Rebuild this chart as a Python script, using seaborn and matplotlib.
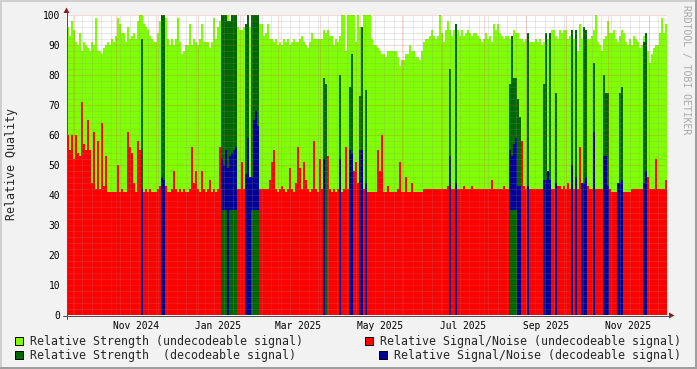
import matplotlib
matplotlib.use("Agg")
import matplotlib.pyplot as plt
import matplotlib.dates as mdates
from matplotlib.patches import Rectangle, Polygon
from matplotlib.lines import Line2D
from matplotlib.ticker import FixedLocator, MultipleLocator
import numpy as np
import pandas as pd
import seaborn as sns

W, H = 697, 369

# ---------------- data ----------------
start_time = "2024-09-25 15:30"
step_minutes = 2136  # one consolidated sample per column

strength_undecodable = [
    96, 93, 98, 95, 91, 90, 94, 88, 91, 90, 89, 88, 91, 90, 99, 88, 88, 87, 89, 90, 91, 90, 92, 91, 93,
    99, 97, 94, 94, 91, 96, 92, 93, 94, 92, 98, 100, 100, 97, 96, 95, 93, 92, 91, 91, 94, 98, 100, 100, 99,
    92, 90, 92, 90, 92, 99, 91, 87, 88, 90, 90, 97, 90, 92, 91, 90, 92, 97, 91, 91, 91, 89, 91, 99, 92,
    96, 98, 100, 100, 100, 100, 98, 100, 100, 100, 96, 95, 95, 96, 97, 100, 96, 100, 100, 100, 100, 97, 97, 93, 94,
    97, 92, 92, 91, 92, 90, 91, 90, 92, 91, 92, 90, 91, 92, 91, 91, 92, 93, 91, 90, 89, 91, 94, 92, 92,
    92, 92, 92, 95, 94, 95, 93, 93, 90, 92, 91, 93, 100, 100, 88, 100, 100, 100, 100, 91, 100, 96, 91, 100, 100,
    100, 100, 92, 90, 90, 89, 88, 87, 87, 86, 88, 88, 88, 88, 88, 86, 83, 85, 85, 87, 87, 90, 88, 88, 86,
    86, 85, 88, 91, 92, 92, 93, 95, 93, 92, 93, 100, 94, 91, 95, 98, 95, 93, 95, 97, 95, 93, 95, 93, 94,
    95, 94, 93, 94, 94, 93, 92, 91, 92, 94, 92, 93, 91, 97, 95, 97, 94, 93, 92, 93, 93, 92, 93, 95, 94,
    94, 92, 92, 91, 92, 94, 91, 91, 91, 92, 91, 92, 90, 91, 94, 92, 93, 95, 95, 93, 92, 95, 94, 95, 95,
    92, 93, 95, 92, 92, 88, 97, 92, 96, 95, 92, 92, 93, 95, 100, 91, 90, 88, 92, 93, 98, 94, 94, 95, 92,
    91, 93, 95, 94, 91, 90, 92, 90, 93, 92, 91, 89, 90, 93, 94, 88, 84, 87, 89, 90, 90, 94, 99, 94, 97,
]

snr_undecodable = [
    60, 55, 60, 52, 60, 54, 53, 71, 57, 55, 65, 55, 44, 61, 42, 58, 42, 64, 43, 53, 41, 41, 41, 41, 41,
    50, 41, 42, 41, 41, 61, 56, 54, 44, 41, 58, 55, 50, 41, 42, 41, 42, 41, 41, 41, 42, 43, 42, 42, 43,
    41, 41, 42, 48, 42, 41, 42, 41, 42, 41, 41, 42, 56, 44, 48, 42, 41, 48, 42, 41, 42, 45, 41, 42, 41,
    42, 56, 42, 42, 42, 42, 42, 42, 42, 42, 42, 42, 51, 42, 42, 42, 42, 42, 42, 42, 42, 42, 42, 42, 42,
    42, 45, 51, 55, 42, 41, 42, 43, 42, 41, 42, 49, 42, 41, 44, 56, 49, 42, 51, 45, 42, 41, 42, 58, 42,
    41, 52, 42, 42, 42, 53, 42, 41, 42, 41, 42, 42, 41, 42, 56, 42, 42, 42, 48, 51, 44, 42, 42, 42, 42,
    41, 41, 41, 41, 41, 55, 48, 60, 41, 41, 43, 41, 41, 41, 41, 42, 51, 41, 41, 46, 41, 41, 44, 41, 41,
    41, 41, 41, 42, 42, 42, 42, 42, 42, 42, 42, 42, 42, 42, 42, 43, 42, 42, 42, 42, 42, 42, 42, 43, 42,
    42, 42, 43, 42, 42, 42, 42, 42, 42, 42, 42, 42, 45, 42, 42, 42, 42, 42, 43, 42, 42, 42, 42, 42, 42,
    42, 42, 58, 43, 42, 42, 42, 42, 42, 42, 42, 42, 42, 42, 42, 42, 42, 42, 42, 42, 43, 43, 42, 43, 42,
    44, 42, 42, 42, 42, 42, 56, 42, 42, 42, 43, 42, 42, 42, 42, 42, 42, 42, 42, 42, 42, 42, 41, 41, 41,
    41, 41, 41, 41, 41, 41, 41, 42, 42, 42, 42, 42, 42, 42, 42, 46, 42, 42, 42, 52, 42, 42, 42, 42, 45,
]

# columns with a decodeable signal: column index -> value
strength_decodable = {
    37: 92, 47: 100, 48: 100,
    77: 100, 78: 100, 79: 100, 80: 98, 81: 98, 82: 100, 83: 100, 84: 100,
    89: 97, 90: 100, 92: 100, 93: 100, 94: 100, 95: 100,
    128: 79, 129: 77, 136: 80, 141: 76, 142: 87, 146: 73, 147: 96, 149: 75,
    191: 82, 194: 97,
    221: 77, 222: 93, 223: 79, 224: 79, 225: 72, 226: 66, 230: 94,
    238: 77, 239: 94, 241: 94, 244: 74,
    252: 95, 254: 95, 258: 96, 259: 95, 263: 84, 268: 80, 269: 74, 270: 74,
    276: 74, 277: 76, 288: 91, 289: 94,
}
snr_decodable = {
    37: 42, 47: 46, 48: 45,
    77: 52, 78: 50, 79: 55, 80: 49, 81: 53, 82: 54, 83: 55, 84: 56,
    89: 47, 90: 59, 91: 46, 92: 46, 93: 65, 94: 68, 95: 63,
    128: 52, 136: 52, 141: 55, 142: 54, 146: 55, 147: 55, 149: 44,
    191: 53, 194: 44,
    221: 55, 222: 53, 223: 57, 224: 59, 225: 43, 226: 43, 230: 43,
    238: 45, 239: 45, 240: 48, 241: 45, 244: 44,
    252: 50, 254: 46, 257: 44, 258: 44, 259: 46, 263: 61,
    268: 53, 269: 53, 270: 43, 275: 44, 276: 44, 277: 45, 288: 44, 289: 48,
}
# lower limit of the decodeable signal/noise band (0 = from the bottom)
snr_decodable_floor = {
    77: 35, 78: 35, 79: 35, 81: 35, 82: 35, 83: 35, 84: 35,
    92: 35, 93: 35, 94: 35, 95: 35,
    221: 35, 222: 35, 223: 35, 224: 35,
}

x_labels = ["Nov 2024", "Jan 2025", "Mar 2025", "May 2025", "Jul 2025", "Sep 2025", "Nov 2025"]
x_label_months = ["2024-11-01", "2025-01-01", "2025-03-01", "2025-05-01",
                  "2025-07-01", "2025-09-01", "2025-11-01"]
y_title = "Relative Quality"
watermark = "RRDTOOL / TOBI OETIKER"
legend_entries = [
    "Relative Strength (undecodeable signal)",
    "Relative Signal/Noise (undecodeable signal)",
    "Relative Strength  (decodeable signal)",
    "Relative Signal/Noise (decodeable signal)",
]

# ---------------- style ----------------
C_GREEN = "#80FF00"
C_DKGREEN = "#006600"
C_RED = "#FF0000"
C_BLUE = "#000099"
C_BACK = "#F2F2F2"
C_GRID = (0.56, 0.56, 0.56, 0.40)
C_MGRID = (0.87, 0.31, 0.31, 0.45)
C_ARROW = "#801F1F"
C_AXIS = "#505050"

sns.set_theme(style="white")
plt.rcParams["font.family"] = ["DejaVu Sans Mono", "DejaVu Sans"]

fig = plt.figure(figsize=(W / 100, H / 100), dpi=100, facecolor=C_BACK)
ax = fig.add_axes([67 / W, 54 / H, 600 / W, 300 / H])
ax.set_facecolor("white")

n = len(strength_undecodable)
step = pd.Timedelta(minutes=step_minutes)
times = pd.date_range(start_time, periods=n, freq=step)
centers = mdates.date2num((times + step / 2).to_pydatetime())

df = pd.DataFrame({
    "time": centers,
    "strength": strength_undecodable,
    "snr": snr_undecodable,
    "strength_dec": [strength_decodable.get(i, 0) for i in range(n)],
    "snr_dec": [snr_decodable.get(i, 0) for i in range(n)],
    "snr_dec_floor": [snr_decodable_floor.get(i, 0) for i in range(n)],
})

layers = [("strength", C_GREEN), ("snr", C_RED), ("strength_dec", C_DKGREEN),
          ("snr_dec", C_BLUE), ("snr_dec_floor", C_DKGREEN)]
for col, color in layers:
    sns.barplot(data=df, x="time", y=col, native_scale=True, orient="x", width=1.0,
                color=color, saturation=1, errorbar=None, linewidth=0,
                antialiased=False, ax=ax, zorder=2)

x0 = mdates.date2num(times[0].to_pydatetime())
x1 = mdates.date2num((times[-1] + step).to_pydatetime())
ax.set_xlim(x0, x1)
ax.set_ylim(0, 100)
ax.set_xlabel("")
ax.set_ylabel("")
for s in ax.spines.values():
    s.set_visible(False)

# grid drawn over the data, as rrdtool does
dotted = (0, (1, 1))
for v in range(2, 101, 2):
    ax.axhline(v, color=C_MGRID if v % 10 == 0 else C_GRID, lw=0.72, ls=dotted, zorder=4,
               clip_on=False)
weeks = pd.date_range("2024-09-30", "2025-12-14", freq="W-MON")
months = pd.date_range("2024-10-01", "2025-12-01", freq="MS")
for d in weeks:
    ax.axvline(mdates.date2num(d.to_pydatetime()), color=C_GRID, lw=0.72, ls=dotted, zorder=4)
for d in months:
    ax.axvline(mdates.date2num(d.to_pydatetime()), color=C_MGRID, lw=0.72, ls=dotted, zorder=4)

# ticks
label_pos = mdates.date2num((pd.to_datetime(x_label_months) + pd.Timedelta(days=15)).to_pydatetime())
ax.set_xticks(label_pos)
ax.set_xticklabels(x_labels)
ax.xaxis.set_minor_locator(FixedLocator(mdates.date2num(weeks.to_pydatetime())))
ax.tick_params(axis="x", which="major", length=0, pad=4, labelsize=6.9, colors="black")
ax.tick_params(axis="x", which="minor", length=1.5, width=0.72, color="#8C8C8C", direction="out")
ax.set_yticks(range(0, 101, 10))
ax.yaxis.set_minor_locator(MultipleLocator(2))
ax.tick_params(axis="y", which="major", length=1.5, width=0.72, color=C_MGRID[:3], pad=3.6,
               labelsize=6.9, labelcolor="black", direction="out")
ax.tick_params(axis="y", which="minor", length=1.5, width=0.72, color="#8C8C8C", direction="out")


def fx(px):
    return px / W


def fy(py):
    return 1 - py / H


# axis lines and arrows
fig.add_artist(Line2D([fx(63), fx(671)], [fy(315.5), fy(315.5)], color=C_AXIS, lw=0.72))
fig.add_artist(Line2D([fx(66.5), fx(66.5)], [fy(319), fy(11)], color=C_AXIS, lw=0.72))
fig.add_artist(Polygon([(fx(669), fy(312.5)), (fx(669), fy(318.5)), (fx(674.5), fy(315.5))],
                       closed=True, color=C_ARROW, lw=0))
fig.add_artist(Polygon([(fx(63.5), fy(13)), (fx(69.5), fy(13)), (fx(66.5), fy(7.5))],
                       closed=True, color=C_ARROW, lw=0))

# frame shading
fig.add_artist(Line2D([0, 1], [fy(1), fy(1)], color="#CFCFCF", lw=1.44))
fig.add_artist(Line2D([fx(1), fx(1)], [0, 1], color="#CFCFCF", lw=1.44))
fig.add_artist(Line2D([0, 1], [fy(368), fy(368)], color="#9E9E9E", lw=1.44))
fig.add_artist(Line2D([fx(696), fx(696)], [0, 1], color="#9E9E9E", lw=1.44))

# titles
fig.text(fx(12), fy(164), y_title, rotation=90, ha="center", va="center", fontsize=8.4)
fig.text(fx(686), fy(5), watermark, rotation=270, ha="center", va="top", fontsize=7,
         color="#A8A8A8")

# legend
legend_layout = [
    (15, 337, 30, 341, C_GREEN),
    (365, 337, 380, 341, C_RED),
    (15, 351, 30, 355, C_DKGREEN),
    (379, 351, 394, 355, C_BLUE),
]
for (bx, by, tx, ty, color), label in zip(legend_layout, legend_entries):
    fig.add_artist(Rectangle((fx(bx), fy(by + 8)), 8 / W, 8 / H, facecolor=color,
                             edgecolor="black", lw=0.72))
    fig.text(fx(tx), fy(ty), label, ha="left", va="center", fontsize=8.4)

fig.savefig("out.png", dpi=100, facecolor=C_BACK)
